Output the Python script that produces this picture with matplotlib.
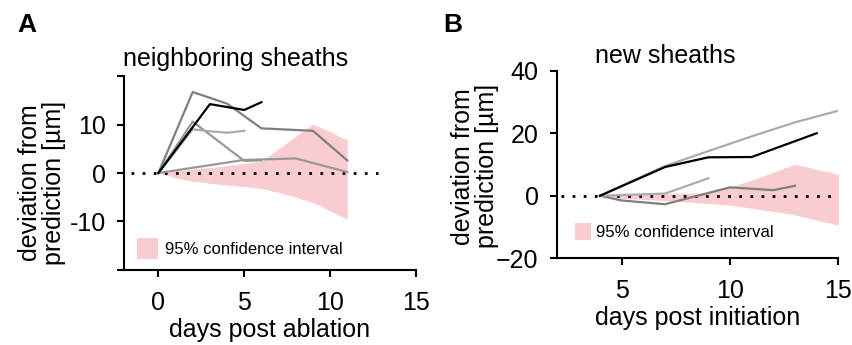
import matplotlib
matplotlib.use("Agg")
import matplotlib.pyplot as plt
from matplotlib.patches import Patch

plt.rcParams['font.family'] = ['Liberation Sans', 'DejaVu Sans']

# ---------- Panel A data: neighboring sheaths ----------
a_dark_x = [0, 2, 4, 6, 9, 11]
a_dark_y = [0, 16.7, 14.3, 9.2, 8.7, 2.6]
a_black_x = [0, 3, 5, 6]
a_black_y = [0, 14.2, 13.0, 14.6]
a_mid_x = [0, 2, 5, 6]
a_mid_y = [0, 10.6, 2.5, 2.6]
a_light_x = [0, 2, 3, 4, 5]
a_light_y = [0, 9.0, 8.6, 8.3, 8.7]
a_low_x = [0, 5, 8, 11]
a_low_y = [0, 2.7, 3.0, 0.2]
a_ci_x = [0, 1, 2, 3, 4, 5, 6, 7, 8, 9, 10, 11]
a_ci_hi = [0, 0.4, 0.8, 1.1, 1.5, 2.0, 2.4, 5.0, 7.6, 10.1, 8.5, 6.8]
a_ci_lo = [0, -1.0, -1.7, -2.1, -2.5, -2.8, -3.2, -4.0, -5.0, -6.1, -7.8, -9.5]

# ---------- Panel B data: new sheaths ----------
b_light_x = [4, 5, 7, 9, 11, 13, 15]
b_light_y = [0, 3.2, 9.5, 14.3, 19.0, 23.5, 27.2]
b_black_x = [4, 7, 9, 11, 14]
b_black_y = [0, 9.2, 12.3, 12.4, 20.0]
b_short_x = [4, 7, 9]
b_short_y = [0, 0.7, 5.6]
b_dark_x = [4, 5, 7, 10, 12, 13]
b_dark_y = [0, -1.5, -2.7, 2.7, 1.8, 3.2]
b_ci_x = [4, 5, 6, 7, 8, 9, 10, 11, 12, 13, 14, 15]
b_ci_hi = [0, 0.3, 0.5, 0.7, 0.8, 1.0, 2.7, 5.0, 7.5, 10.1, 8.5, 6.9]
b_ci_lo = [0, -0.8, -1.2, -1.5, -2.0, -2.5, -3.0, -4.0, -5.0, -6.1, -7.8, -9.4]

PINK = '#f9cdd0'
DARK = '#7f7f7f'
MID = '#989898'
LIGHT = '#ababab'
FS = 18

fig = plt.figure(figsize=(8.53, 3.45), dpi=100)
axA = fig.add_axes([0.1454, 0.2174, 0.3423, 0.5623])
axB = fig.add_axes([0.6526, 0.2513, 0.3302, 0.5437])


def style(ax):
    for s in ['top', 'right']:
        ax.spines[s].set_visible(False)
    for s in ['left', 'bottom']:
        ax.spines[s].set_linewidth(1.5)
    ax.tick_params(direction='out', length=5, width=1.5, labelsize=FS, pad=8)
    ax.tick_params(axis='x', pad=10)


# Panel A
axA.fill_between(a_ci_x, a_ci_lo, a_ci_hi, color=PINK, lw=0, zorder=1)
axA.plot([-1.6, 12.8], [0, 0], color='black', lw=2, ls=(0, (1, 3)), zorder=2)
axA.plot(a_low_x, a_low_y, color=MID, lw=1.6, zorder=3)
axA.plot(a_mid_x, a_mid_y, color=MID, lw=1.6, zorder=3)
axA.plot(a_light_x, a_light_y, color=LIGHT, lw=1.6, zorder=3)
axA.plot(a_dark_x, a_dark_y, color=DARK, lw=1.6, zorder=3)
axA.plot(a_black_x, a_black_y, color='black', lw=1.6, zorder=4)
axA.set_xlim(-2, 15)
axA.set_ylim(-20, 20)
axA.set_xticks([0, 5, 10, 15])
axA.set_yticks([-20, -10, 0, 10, 20])
axA.set_yticklabels(['', '-10', '0', '10', ''])
style(axA)
axA.set_xlabel('days post ablation', fontsize=FS, labelpad=2)
axA.set_ylabel('deviation from\nprediction [µm]', fontsize=FS, linespacing=1.0)
axA.yaxis.set_label_coords(-0.2, 0.45)
axA.text(0.381, 1.05, 'neighboring sheaths', transform=axA.transAxes,
         ha='center', va='baseline', fontsize=FS)
axA.legend(handles=[Patch(facecolor=PINK, edgecolor='none', label='95% confidence interval')],
           loc='lower left', bbox_to_anchor=(0.02, 0.02), frameon=False,
           fontsize=12, handlelength=1.3, handleheight=1.6, handletextpad=0.4,
           borderaxespad=0)

# Panel B
axB.fill_between(b_ci_x, b_ci_lo, b_ci_hi, color=PINK, lw=0, zorder=1)
axB.plot([2.2, 15], [0, 0], color='black', lw=2, ls=(0, (1, 3)), zorder=2)
axB.plot(b_dark_x, b_dark_y, color=DARK, lw=1.6, zorder=3)
axB.plot(b_short_x, b_short_y, color=LIGHT, lw=1.6, zorder=3)
axB.plot(b_light_x, b_light_y, color=LIGHT, lw=1.6, zorder=3)
axB.plot(b_black_x, b_black_y, color='black', lw=1.6, zorder=4)
axB.set_xlim(2, 15)
axB.set_ylim(-20, 40)
axB.set_xticks([5, 10, 15])
axB.set_yticks([-20, 0, 20, 40])
style(axB)
axB.set_xlabel('days post initiation', fontsize=FS, labelpad=2)
axB.set_ylabel('deviation from\nprediction [µm]', fontsize=FS, linespacing=1.0)
axB.yaxis.set_label_coords(-0.205, 0.49)
axB.text(0.387, 1.04, 'new sheaths', transform=axB.transAxes,
         ha='center', va='baseline', fontsize=FS)
axB.legend(handles=[Patch(facecolor=PINK, edgecolor='none', label='95% confidence interval')],
           loc='lower left', bbox_to_anchor=(0.04, 0.06), frameon=False,
           fontsize=12, handlelength=1.0, handleheight=1.2, handletextpad=0.3,
           borderaxespad=0)

fig.text(17 / 853, 1 - 32 / 345, 'A', fontsize=19, fontweight='bold', ha='left', va='baseline')
fig.text(443 / 853, 1 - 32 / 345, 'B', fontsize=19, fontweight='bold', ha='left', va='baseline')

fig.savefig('out.png', dpi=100)
